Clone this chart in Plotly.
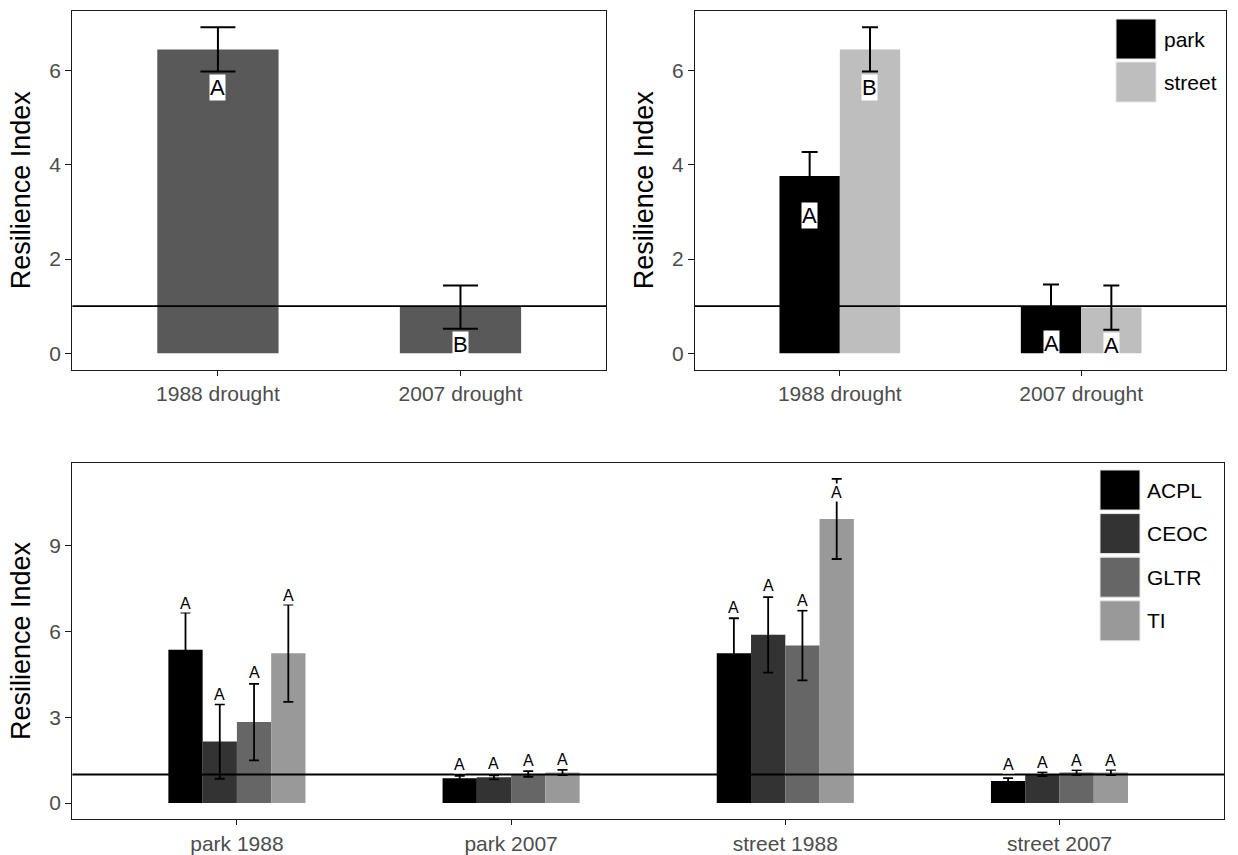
import plotly.graph_objects as go

# ---------------- data ----------------
drought_cats = ["1988 drought", "2007 drought"]
overall_mean = [6.45, 0.98]
overall_se = [0.47, 0.46]
overall_letters = ["A", "B"]

site_names = ["park", "street"]
park_mean = [3.76, 1.00]
park_se = [0.51, 0.46]
park_letters = ["A", "A"]
street_mean = [6.45, 0.97]
street_se = [0.47, 0.47]
street_letters = ["B", "A"]

group_cats = ["park 1988", "park 2007", "street 1988", "street 2007"]
species_names = ["ACPL", "CEOC", "GLTR", "TI"]
acpl_mean = [5.36, 0.87, 5.24, 0.77]
acpl_se = [1.30, 0.08, 1.22, 0.10]
ceoc_mean = [2.15, 0.90, 5.88, 1.01]
ceoc_se = [1.30, 0.07, 1.32, 0.07]
gltr_mean = [2.83, 1.02, 5.51, 1.07]
gltr_se = [1.34, 0.10, 1.22, 0.08]
ti_mean = [5.24, 1.07, 9.93, 1.07]
ti_se = [1.70, 0.09, 1.40, 0.09]
species_letters = [["A"] * 4, ["A"] * 4, ["A"] * 4, ["A"] * 4]
# centre heights of the letter labels in the bottom panel
acpl_label_y = [6.97, 1.36, 6.82, 1.36]
ceoc_label_y = [3.79, 1.40, 7.60, 1.43]
gltr_label_y = [4.57, 1.48, 7.08, 1.48]
ti_label_y = [7.26, 1.51, 10.87, 1.48]

reference_level = 1.0

# ---------------- styling ----------------
W, H = 1238, 855
FONT = "Liberation Sans, Arial, Helvetica, sans-serif"
TICK_COLOR = "#4D4D4D"
FRAME = "#1A1A1A"
overall_color = "#595959"
site_colors = ["#000000", "#BEBEBE"]
species_colors = ["#000000", "#333333", "#666666", "#999999"]
BAR_SPAN = 0.5  # total width of a group of bars (category units)


def px_x(p):
    return p / W


def px_y(p):
    return 1 - p / H


def expanded(means, ses):
    top = max(m + s for m, s in zip(means, ses))
    return [-0.05 * top, 1.05 * top]


fig = go.Figure()

# ---- top-left panel: overall ----
pos_top = list(range(len(drought_cats)))
fig.add_trace(go.Bar(
    x=pos_top, y=overall_mean, name="overall",
    marker=dict(color=overall_color, line=dict(width=0)),
    error_y=dict(type="data", array=overall_se, color="black", thickness=2, width=17.5),
    xaxis="x", yaxis="y", showlegend=False,
))

# ---- top-right panel: park vs street ----
site_means = [park_mean, street_mean]
site_ses = [park_se, street_se]
site_letters = [park_letters, street_letters]
for name, m, s, c in zip(site_names, site_means, site_ses, site_colors):
    fig.add_trace(go.Bar(
        x=pos_top, y=m, name=name,
        marker=dict(color=c, line=dict(width=0)),
        error_y=dict(type="data", array=s, color="black", thickness=2, width=8),
        xaxis="x2", yaxis="y2", showlegend=False,
    ))

# ---- bottom panel: species ----
pos_bot = list(range(len(group_cats)))
sp_means = [acpl_mean, ceoc_mean, gltr_mean, ti_mean]
sp_ses = [acpl_se, ceoc_se, gltr_se, ti_se]
sp_label_y = [acpl_label_y, ceoc_label_y, gltr_label_y, ti_label_y]
for name, m, s, c in zip(species_names, sp_means, sp_ses, species_colors):
    fig.add_trace(go.Bar(
        x=pos_bot, y=m, name=name,
        marker=dict(color=c, line=dict(width=0)),
        error_y=dict(type="data", array=s, color="black", thickness=1.8, width=5),
        xaxis="x3", yaxis="y3", showlegend=False,
    ))

annotations = []
# letters, top-left
for i, (m, s, t) in enumerate(zip(overall_mean, overall_se, overall_letters)):
    annotations.append(dict(x=pos_top[i], y=m - s, xref="x", yref="y", text=t,
                            showarrow=False, yanchor="top", yshift=-2,
                            bgcolor="white", borderpad=0,
                            font=dict(family=FONT, size=22, color="black")))
# letters, top-right
n_sites = len(site_names)
for j in range(n_sites):
    off = (j - (n_sites - 1) / 2) * BAR_SPAN / n_sites
    for i in range(len(drought_cats)):
        annotations.append(dict(x=pos_top[i] + off, y=site_means[j][i] - site_ses[j][i],
                                xref="x2", yref="y2", text=site_letters[j][i],
                                showarrow=False, yanchor="top", yshift=-2,
                                bgcolor="white", borderpad=0,
                                font=dict(family=FONT, size=22, color="black")))
# letters, bottom
n_sp = len(species_names)
for j in range(n_sp):
    off = (j - (n_sp - 1) / 2) * BAR_SPAN / n_sp
    for i in range(len(group_cats)):
        annotations.append(dict(x=pos_bot[i] + off, y=sp_label_y[j][i],
                                xref="x3", yref="y3", text=species_letters[j][i],
                                showarrow=False, yanchor="middle",
                                bgcolor="white", borderpad=0,
                                font=dict(family=FONT, size=16, color="black")))

shapes = []
for ax in ["", "2", "3"]:
    shapes.append(dict(type="line", xref=f"x{ax} domain", yref=f"y{ax}",
                       x0=0, x1=1, y0=reference_level, y1=reference_level,
                       line=dict(color="black", width=1.8), layer="above"))


# manual legends (large square keys as in the reference)
def add_legend(names, colors, key_left, key_top, key_size, step, text_left):
    for k, (nm, col) in enumerate(zip(names, colors)):
        top = key_top + k * step
        shapes.append(dict(type="rect", xref="paper", yref="paper",
                           x0=px_x(key_left), x1=px_x(key_left + key_size),
                           y0=px_y(top + key_size), y1=px_y(top),
                           fillcolor=col, line=dict(color="#E6E6E6", width=1)))
        annotations.append(dict(x=px_x(text_left), y=px_y(top + key_size / 2),
                                xref="paper", yref="paper", text=nm,
                                showarrow=False, xanchor="left", yanchor="middle",
                                font=dict(family=FONT, size=21, color="black")))


add_legend(site_names, site_colors, 1116, 19, 40, 43, 1162)
add_legend(species_names, species_colors, 1100, 470, 40, 43.6, 1145)

base_axis = dict(showline=True, mirror=True, linecolor=FRAME, linewidth=1.3,
                 ticks="outside", tickwidth=1.3, tickcolor=FRAME,
                 showgrid=False, zeroline=False,
                 tickfont=dict(family=FONT, size=21, color=TICK_COLOR))
x_axis_common = dict(base_axis, ticklen=5)
y_axis_common = dict(base_axis, ticklen=6)
ytitle = dict(text="Resilience Index", font=dict(family=FONT, size=27, color="black"),
              standoff=10)

top_y_dom = [px_y(369.5), px_y(11)]
top_range = expanded(overall_mean + park_mean + street_mean,
                     overall_se + park_se + street_se)
bot_range = expanded(sum(sp_means, []), sum(sp_ses, []))

fig.update_layout(
    width=W, height=H,
    margin=dict(l=0, r=0, t=0, b=0),
    paper_bgcolor="white", plot_bgcolor="white",
    barmode="group", bargap=1 - BAR_SPAN, bargroupgap=0,
    showlegend=False,
    font=dict(family=FONT),
    xaxis=dict(domain=[px_x(72.4), px_x(606)], range=[-0.6, len(drought_cats) - 0.4],
               tickvals=pos_top, ticktext=drought_cats, anchor="y", **x_axis_common),
    yaxis=dict(domain=top_y_dom, range=top_range, tickvals=[0, 2, 4, 6],
               anchor="x", title=ytitle, **y_axis_common),
    xaxis2=dict(domain=[px_x(695), px_x(1226)], range=[-0.6, len(drought_cats) - 0.4],
                tickvals=pos_top, ticktext=drought_cats, anchor="y2", **x_axis_common),
    yaxis2=dict(domain=top_y_dom, range=top_range, tickvals=[0, 2, 4, 6],
                anchor="x2", title=ytitle, **y_axis_common),
    xaxis3=dict(domain=[px_x(72.4), px_x(1224)], range=[-0.6, len(group_cats) - 0.4],
                tickvals=pos_bot, ticktext=group_cats, anchor="y3", **x_axis_common),
    yaxis3=dict(domain=[px_y(819.3), px_y(462.7)], range=bot_range, tickvals=[0, 3, 6, 9],
                anchor="x3", title=ytitle, **y_axis_common),
    annotations=annotations,
    shapes=shapes,
)

fig.write_html("out.html")
